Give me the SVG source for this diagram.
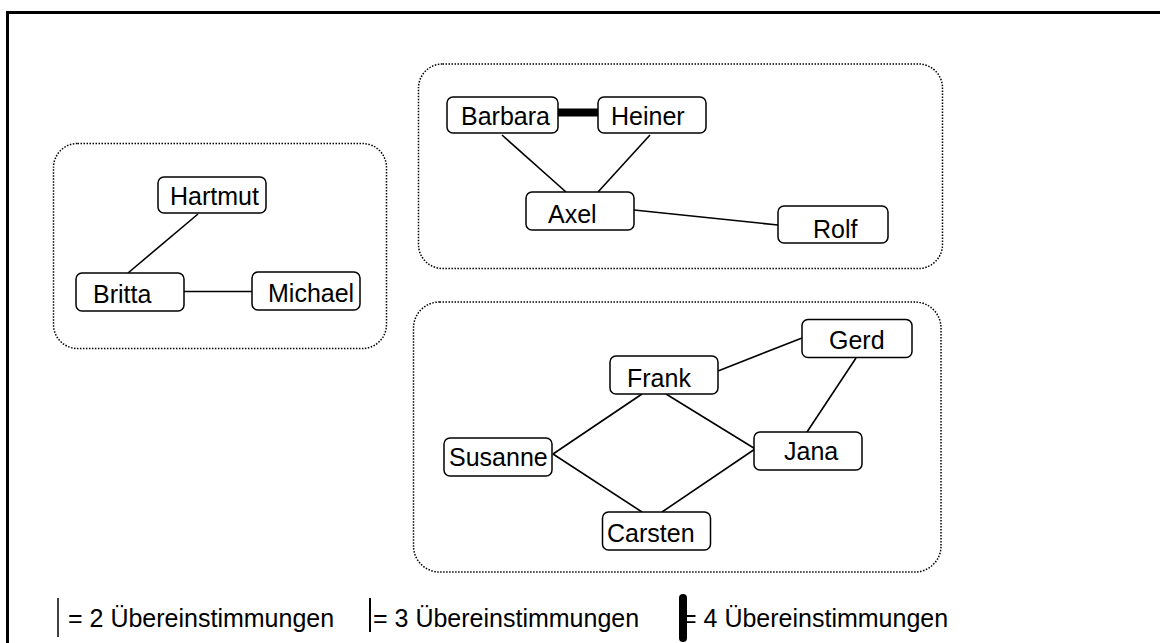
<svg xmlns="http://www.w3.org/2000/svg" width="1160" height="643" viewBox="0 0 1160 643">
<style>
.node{fill:#fff;stroke:#000;stroke-width:1.5}
.lbl{font-family:"Liberation Sans",Arial,sans-serif;font-size:25px;fill:#000}
.grp{fill:none;stroke:#000;stroke-width:1.5;stroke-dasharray:1.5 1.5}
.edge{stroke:#000;stroke-width:1.6;fill:none}
</style>
<rect x="7.5" y="12.5" width="1200" height="700" fill="#fff" stroke="#000" stroke-width="3"/>
<g id="groups">
<rect class="grp" x="53.5" y="143.5" width="333" height="205" rx="24"/>
<rect class="grp" x="418.5" y="64" width="524" height="204.5" rx="24"/>
<rect class="grp" x="413.5" y="302" width="527.5" height="270" rx="26"/>
</g>
<g id="connectors">
<line class="edge" x1="198" y1="214" x2="128" y2="273"/>
<line class="edge" x1="184" y1="291.5" x2="252" y2="291.5"/>
<line class="edge" x1="502" y1="135" x2="566" y2="192"/>
<line class="edge" x1="650" y1="135" x2="598" y2="192"/>
<line class="edge" x1="634" y1="210" x2="778" y2="225"/>
<line x1="558" y1="112.5" x2="598" y2="112.5" stroke="#000" stroke-width="8"/>
<line class="edge" x1="718" y1="371" x2="802" y2="338"/>
<line class="edge" x1="856" y1="358" x2="807" y2="432"/>
<line class="edge" x1="642" y1="394" x2="553" y2="454"/>
<line class="edge" x1="666" y1="394" x2="757" y2="450"/>
<line class="edge" x1="553" y1="454" x2="642" y2="512"/>
<line class="edge" x1="662" y1="512" x2="755" y2="449"/>
</g>
<g id="hartmut"><rect class="node" x="158" y="177" width="108" height="36" rx="6"/><text class="lbl" x="170" y="205">Hartmut</text></g>
<g id="britta"><rect class="node" x="76" y="273" width="108" height="38" rx="6"/><text class="lbl" x="93" y="303">Britta</text></g>
<g id="michael"><rect class="node" x="252" y="272" width="108" height="38" rx="6"/><text class="lbl" x="268" y="302">Michael</text></g>
<g id="barbara"><rect class="node" x="447" y="97" width="111" height="36" rx="6"/><text class="lbl" x="461" y="125">Barbara</text></g>
<g id="heiner"><rect class="node" x="598" y="97" width="108" height="36" rx="6"/><text class="lbl" x="611" y="125">Heiner</text></g>
<g id="axel"><rect class="node" x="526" y="192" width="108" height="38" rx="6"/><text class="lbl" x="548" y="223">Axel</text></g>
<g id="rolf"><rect class="node" x="778" y="206" width="110" height="37" rx="6"/><text class="lbl" x="813" y="238">Rolf</text></g>
<g id="gerd"><rect class="node" x="802" y="319.5" width="110" height="38" rx="6"/><text class="lbl" x="829" y="349">Gerd</text></g>
<g id="frank"><rect class="node" x="610" y="356" width="108" height="38" rx="6"/><text class="lbl" x="627" y="386.5">Frank</text></g>
<g id="susanne"><rect class="node" x="444" y="438" width="108" height="38" rx="6"/><text class="lbl" x="449" y="465.5">Susanne</text></g>
<g id="jana"><rect class="node" x="754" y="432" width="108" height="38" rx="6"/><text class="lbl" x="784" y="460">Jana</text></g>
<g id="carsten"><rect class="node" x="602.5" y="512" width="108" height="38" rx="6"/><text class="lbl" x="607" y="541.5">Carsten</text></g>
<g id="legend">
<line x1="58" y1="598" x2="58" y2="637" stroke="#000" stroke-width="1.5"/>
<text class="lbl" x="68" y="627">= 2 Übereinstimmungen</text>
<line x1="370" y1="598" x2="370" y2="632" stroke="#000" stroke-width="2"/>
<text class="lbl" x="373" y="627">= 3 Übereinstimmungen</text>
<line x1="683" y1="598" x2="683" y2="638" stroke="#000" stroke-width="8" stroke-linecap="round"/>
<text class="lbl" x="682" y="627">= 4 Übereinstimmungen</text>
</g>
</svg>
